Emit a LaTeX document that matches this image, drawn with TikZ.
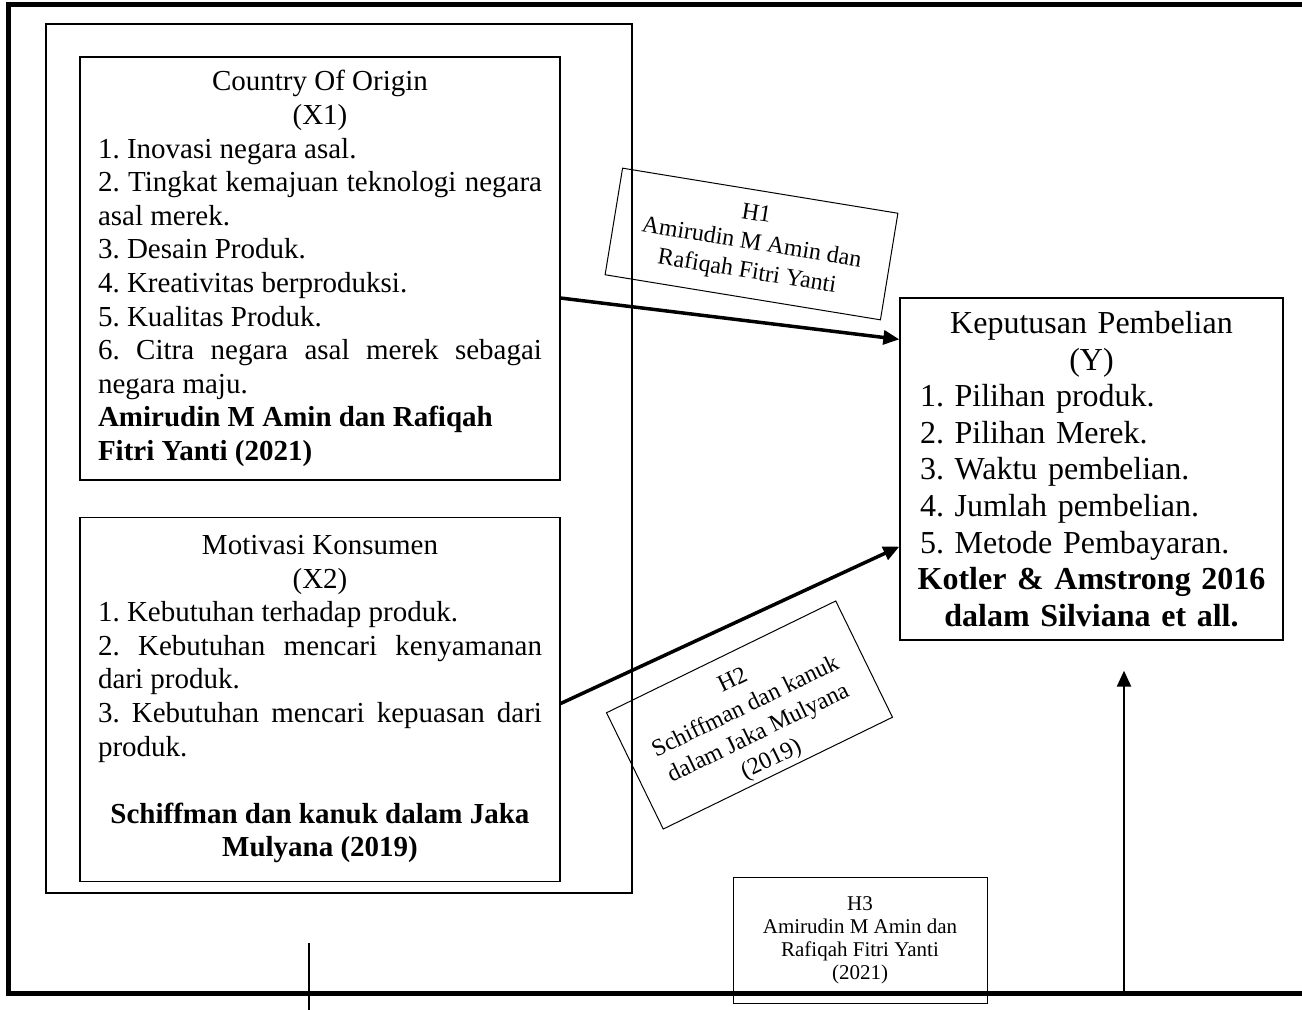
\documentclass[tikz,border=0pt]{standalone}
\usepackage{fontspec}
\setmainfont{Liberation Serif}
\usetikzlibrary{arrows.meta,positioning}
\hyphenpenalty=10000
\exhyphenpenalty=10000
\frenchspacing
\setlength{\parindent}{0pt}

\begin{document}
\begin{tikzpicture}[x=0.5pt,y=-0.5pt,>={Triangle[length=8pt,width=7pt]},
        factor/.style={draw,line width=0.65pt,inner xsep=9pt,inner ysep=0pt,text width=222pt,
          align=justify,font=\fontsize{14.5}{16.8}\selectfont},
        result/.style={draw,line width=0.65pt,inner xsep=10pt,inner ysep=0pt,text width=171.5pt,
          align=left,font=\fontsize{16}{18.3}\selectfont},
        hyp/.style={draw,line width=0.5pt,align=center,inner sep=0pt,font=\fontsize{12}{14.6}\selectfont},
        link/.style={->,line width=1.75pt}]

        \useasboundingbox (0,0) rectangle (1302,1010);

        % outer frame, open on the right
        \draw[line width=2.5pt] (1310,5) -- (8.5,5) -- (8.5,993) -- (1310,993);
        \draw[line width=0.65pt] (46,24) rectangle (632,893);

        \node[factor,minimum height=211.5pt] (x1) at (320,268.5) {%
          \centerline{Country Of Origin}
          \centerline{(X1)}
          1. Inovasi negara asal.\par
          2. Tingkat kemajuan teknologi negara asal merek.\par
          3. Desain Produk.\par
          4. Kreativitas berproduksi.\par
          5. Kualitas Produk.\par
          6. Citra negara asal merek sebagai negara maju.\par
          \textbf{Amirudin M Amin dan Rafiqah\\Fitri Yanti (2021)}};
        \node[factor,minimum height=182pt,below=18pt of x1] (x2) {%
          \centerline{Motivasi Konsumen}
          \centerline{(X2)}
          1. Kebutuhan terhadap produk.\par
          2. Kebutuhan mencari kenyamanan dari produk.\par
          3. Kebutuhan mencari kepuasan dari produk.\par
          \vskip\baselineskip
          \centerline{\bfseries Schiffman dan kanuk dalam Jaka}
          \centerline{\bfseries Mulyana (2019)}};
        \node[result,minimum height=171pt] (y) at (1091.5,469) {%
          \centerline{Keputusan Pembelian}
          \centerline{(Y)}
          1. Pilihan produk.\\
          2. Pilihan Merek.\\
          3. Waktu pembelian.\\
          4. Jumlah pembelian.\\
          5. Metode Pembayaran.\par
          \centerline{\bfseries Kotler \& Amstrong 2016}
          \centerline{\bfseries dalam Silviana et all.}};

        \node[hyp,minimum width=139.5pt,minimum height=54pt,rotate=-9.3] (h1) at (751.5,244)
          {H1\\Amirudin M Amin dan\\Rafiqah Fitri Yanti};
        \node[hyp,minimum width=127.5pt,minimum height=63.5pt,rotate=26] (h2) at (749.5,715)
          {\rule{0pt}{16.5pt}H2\\Schiffman dan kanuk\\dalam Jaka Mulyana\\(2019)\strut};
        \node[hyp,minimum width=127pt,minimum height=63pt,font=\fontsize{10.5}{11.5}\selectfont] (h3) at (860,940)
          {H3\\Amirudin M Amin dan\\Rafiqah Fitri Yanti\\(2021)};

        \path[link]
        (x1.-7.5) edge (y.146.5)
        (x2.-1.7) edge (y.202.9);

        \coordinate (base) at (1124,993);
        \draw[->,line width=1.1pt,shorten >=15pt] (base) -- (base |- y.south);

        \coordinate (tick top) at (309,943);
        \coordinate (tick end) at (309,1012);
        \draw[line width=1pt] (tick top) -- (tick end);
      \end{tikzpicture}
\end{document}
